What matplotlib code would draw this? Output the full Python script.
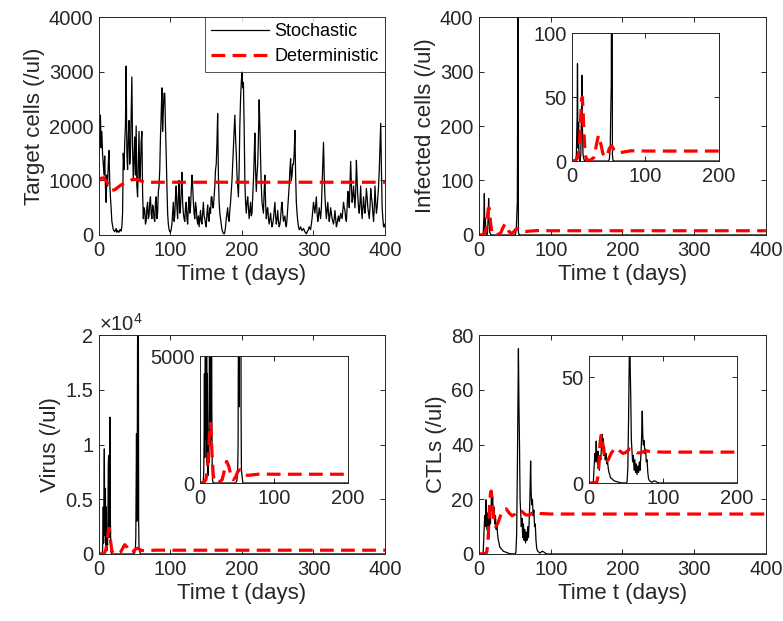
import matplotlib
matplotlib.use("Agg")
import matplotlib.pyplot as plt
import numpy as np

plt.rcParams['font.family'] = ['Liberation Sans', 'DejaVu Sans']
plt.rcParams['mathtext.fontset'] = 'custom'
plt.rcParams['mathtext.rm'] = 'Liberation Sans'
plt.rcParams['mathtext.it'] = 'Liberation Sans:italic'

# ---------------- data ----------------
# Target cells, stochastic (daily, 0..400)
t_T = list(range(0, 401))
T_stoch = [
    1300, 1800, 2200, 1600, 1900, 1500, 1300, 1100, 1450, 900, 600, 1100, 900, 1300, 1550, 1000, 700, 500, 250, 180,
    100, 80, 60, 90, 120, 50, 80, 60, 50, 90, 100, 70, 150, 400, 1500, 1200, 1700, 2000, 3100, 1500,
    1200, 1800, 2100, 1300, 1500, 2200, 2900, 1600, 1000, 1400, 1800, 1100, 2000, 900, 700, 1300, 1900, 1000, 1200, 1700,
    1900, 800, 300, 500, 450, 200, 250, 500, 600, 300, 350, 600, 700, 400, 300, 550, 500, 300, 250, 600,
    700, 300, 400, 800, 900, 1200, 1800, 2200, 2700, 1900, 2300, 2600, 2600, 2000, 1500, 900, 400, 200, 100, 60,
    50, 100, 200, 400, 600, 250, 350, 700, 900, 500, 300, 700, 1000, 400, 500, 800, 1150, 600, 400, 300,
    250, 500, 600, 300, 200, 500, 700, 400, 500, 800, 1100, 900, 600, 400, 300, 600, 500, 300, 200, 350,
    150, 300, 450, 250, 200, 400, 600, 350, 300, 200, 150, 400, 550, 300, 250, 500, 400, 700, 700, 500,
    500, 700, 900, 1200, 1300, 1700, 2230, 1100, 600, 400, 300, 200, 100, 60, 30, 20, 50, 150, 300, 400,
    500, 300, 250, 450, 600, 800, 1000, 1300, 1600, 1900, 2200, 1800, 1500, 1100, 900, 700, 1200, 2000, 2500, 2800,
    3000, 2700, 2800, 2000, 1000, 600, 400, 600, 700, 500, 300, 450, 600, 350, 400, 700, 1000, 1400, 1870, 1200,
    800, 1100, 1300, 1800, 2480, 2000, 1400, 900, 600, 500, 400, 800, 1100, 600, 300, 450, 500, 300, 200, 300,
    400, 250, 150, 200, 300, 450, 600, 350, 200, 300, 450, 250, 150, 200, 300, 500, 600, 400, 250, 300,
    350, 200, 150, 300, 500, 700, 900, 1200, 1400, 1000, 1100, 1300, 1300, 1500, 1920, 1100, 600, 400, 250, 150,
    100, 120, 150, 100, 80, 100, 120, 90, 60, 40, 20, 50, 80, 100, 150, 120, 100, 200, 300, 450,
    600, 500, 400, 550, 700, 400, 250, 350, 500, 400, 300, 500, 900, 1300, 1700, 1100, 700, 500, 300, 450,
    600, 400, 250, 350, 500, 400, 300, 250, 200, 300, 450, 300, 150, 200, 300, 350, 250, 300, 400, 350,
    300, 450, 600, 500, 450, 300, 250, 500, 800, 700, 500, 900, 1350, 900, 600, 700, 900, 700, 500, 800,
    1370, 1000, 700, 500, 400, 600, 900, 500, 300, 500, 700, 500, 400, 600, 850, 700, 500, 400, 300, 500,
    850, 700, 600, 400, 250, 500, 900, 600, 400, 500, 700, 900, 1200, 1600, 2050, 1200, 500, 300, 150, 200,
    150]
t_Tdet = [0, 3, 6, 10, 14, 18, 22, 26, 30, 35, 40, 45, 50, 55, 60, 65, 70, 80, 100, 400]
T_det = [1000, 1040, 1050, 1000, 880, 820, 830, 870, 910, 950, 985, 1010, 1020, 1010, 985, 970, 965, 968, 968, 968]

# Infected cells
t_I = [0, 5, 6, 7, 7.5, 8, 8.5, 9, 9.5, 10, 11, 12, 13, 13.5, 14, 14.5, 15, 16, 17, 18, 20,
       48, 50, 51, 52, 53, 53.5, 54, 54.5, 55, 56, 57, 60, 400]
I_stoch = [0, 0, 5, 35, 76, 20, 10, 30, 5, 2, 0, 5, 40, 67, 30, 20, 5, 2, 0, 0, 0,
           0, 0, 2, 10, 45, 60, 260, 500, 5, 0, 0, 0, 0]
t_Idet = [0, 5, 8, 10, 12, 13, 14, 15, 16, 18, 20, 25, 30, 33, 36, 39, 42, 45, 48, 51, 54,
          57, 60, 65, 70, 80, 90, 100, 400]
I_det = [0, 0.5, 3, 12, 35, 48, 50, 42, 25, 5, 1, 0.5, 3, 12, 20, 14, 6, 3, 5, 10, 12,
         9, 7, 6.5, 7, 8, 8, 7.8, 7.8]

# Virus
t_V = [0, 4, 5, 5.5, 6, 6.5, 7, 7.5, 8, 8.5, 9, 9.5, 10, 10.5, 11, 11.5, 12, 12.5, 13, 13.5,
       14, 14.5, 15, 15.5, 16, 16.5, 17, 18, 20,
       48, 50, 51, 51.5, 52, 52.5, 53, 53.5, 54, 54.5, 55, 55.5, 56, 58, 400]
V_stoch = [0, 0, 300, 1500, 4300, 1000, 5000, 9600, 2000, 1700, 6000, 800, 4300, 1500, 300,
           1200, 800, 3000, 8000, 9000, 1500, 4500, 1700, 12500, 3000, 600, 100, 0, 0,
           0, 100, 600, 1500, 6500, 11000, 3000, 8000, 20000, 30000, 25000, 3000, 500, 0, 0]
V_det = [0, 20, 130, 500, 1500, 2100, 2350, 2100, 1300, 300, 60, 20, 130, 500, 850, 650,
         280, 130, 220, 450, 520, 420, 320, 300, 320, 350, 350, 345, 345]

# CTLs
t_E = [0, 5, 6, 7, 8, 9, 9.8, 10.5, 11.6, 12.3, 13, 14, 15, 16, 17, 17.7, 18.5, 19, 20, 21,
       22, 23, 24, 25, 26, 27, 28, 29, 31, 34, 38, 43, 50, 51.5, 52.5, 53.5, 54.5, 55, 55.7,
       56.5, 57.3, 58, 59, 60, 61, 62, 63, 64, 65, 66, 67, 68, 69, 70, 71, 72, 72.8, 73.5,
       74.5, 75.5, 76.5, 77.5, 78.5, 79.5, 80.5, 82, 85, 88, 90, 93, 95, 400]
E_stoch = [0, 0, 1, 8, 14, 10, 19.8, 12, 8.8, 15, 12, 6, 13, 11, 18, 23, 16, 21, 13, 17,
           11, 14, 9, 11, 7, 5, 4, 2.5, 2, 1, 0.6, 0.1, 0, 0.5, 7, 30, 60, 75, 55,
           40, 20, 16, 10, 13, 6, 11, 5, 9, 4, 8, 5, 10, 6, 12, 20, 34, 22, 18,
           20, 14, 16, 10, 11, 5, 2, 1, 0.3, 1, 0.8, 0.2, 0, 0]
t_Edet = [0, 10, 11, 12, 13, 14, 15, 16, 17, 19, 21, 23, 26, 30, 34, 38, 42, 46, 50, 55,
          60, 65, 70, 76, 85, 100, 400]
E_det = [0, 0.2, 1, 3, 7, 13, 19, 22, 23, 18, 12, 10, 11, 14, 16, 16.5, 15, 14, 14.5, 16,
         15.5, 14.3, 14.2, 15.2, 14.8, 14.6, 14.6]

xticks_main = [0, 100, 200, 300, 400]
xticks_inset = [0, 100, 200]

# ---------------- style ----------------
TXT = '#262626'
TICK_FS = 14.5
LAB_FS = 16
DASH = (4.3, 2.3)

fig = plt.figure(figsize=(7.83, 6.21), dpi=100)


def style(ax, fs=TICK_FS):
    for s in ax.spines.values():
        s.set_color(TXT)
        s.set_linewidth(0.7)
    ax.tick_params(direction='in', length=3.5, width=0.7, colors=TXT,
                   labelsize=fs, top=True, right=True, pad=4)


def plot_pair(ax, ts, ys, td, yd, label=True):
    ax.plot(ts, ys, color='black', lw=0.9, label='Stochastic' if label else None)
    ax.plot(td, yd, color='red', lw=2.3, dashes=DASH, label='Deterministic' if label else None)


# Target cells
ax1 = fig.add_axes([0.1264, 0.6216, 0.3653, 0.3510])
plot_pair(ax1, t_T, T_stoch, t_Tdet, T_det)
ax1.set_xlim(0, 400)
ax1.set_ylim(0, 4000)
ax1.set_xticks(xticks_main)
ax1.set_yticks([0, 1000, 2000, 3000, 4000])
style(ax1)
ax1.set_xlabel('Time t (days)', fontsize=LAB_FS, color=TXT, labelpad=3)
ax1.set_ylabel('Target cells (/ul)', fontsize=LAB_FS, color=TXT, labelpad=3)
leg = ax1.legend(loc='upper right', fontsize=13, frameon=True, fancybox=False,
                 borderaxespad=0, handlelength=3.2, handletextpad=0.3,
                 borderpad=0.35, labelspacing=0.45, labelcolor='black')
leg.get_frame().set_edgecolor(TXT)
leg.get_frame().set_linewidth(0.7)

# Infected cells
ax2 = fig.add_axes([0.6117, 0.6216, 0.3665, 0.3510])
plot_pair(ax2, t_I, I_stoch, t_Idet, I_det)
ax2.set_xlim(0, 400)
ax2.set_ylim(0, 400)
ax2.set_xticks(xticks_main)
ax2.set_yticks([0, 100, 200, 300, 400])
style(ax2)
ax2.set_xlabel('Time t (days)', fontsize=LAB_FS, color=TXT, labelpad=3)
ax2.set_ylabel('Infected cells (/ul)', fontsize=LAB_FS, color=TXT, labelpad=3)

ax2i = fig.add_axes([0.7305, 0.7407, 0.1877, 0.2061])
plot_pair(ax2i, t_I, I_stoch, t_Idet, I_det, label=False)
ax2i.set_xlim(0, 200)
ax2i.set_ylim(0, 100)
ax2i.set_xticks(xticks_inset)
ax2i.set_yticks([0, 50, 100])
style(ax2i)

# Virus
ax3 = fig.add_axes([0.1264, 0.1079, 0.3653, 0.3526])
plot_pair(ax3, t_V, V_stoch, t_Idet, V_det)
ax3.set_xlim(0, 400)
ax3.set_ylim(0, 20000)
ax3.set_xticks(xticks_main)
ax3.set_yticks([0, 5000, 10000, 15000, 20000])
ax3.set_yticklabels(['0', '0.5', '1', '1.5', '2'])
style(ax3)
ax3.set_xlabel('Time t (days)', fontsize=LAB_FS, color=TXT, labelpad=3)
ax3.set_ylabel('Virus (/ul)', fontsize=LAB_FS, color=TXT, labelpad=3)
ax3.text(0.0, 1.003, r'$\times10^{4}$', transform=ax3.transAxes, fontsize=TICK_FS,
         color=TXT, ha='left', va='bottom')

ax3i = fig.add_axes([0.2554, 0.2222, 0.1890, 0.2045])
plot_pair(ax3i, t_V, V_stoch, t_Idet, V_det, label=False)
ax3i.set_xlim(0, 200)
ax3i.set_ylim(0, 5000)
ax3i.set_xticks(xticks_inset)
ax3i.set_yticks([0, 5000])
style(ax3i)

# CTLs
ax4 = fig.add_axes([0.6117, 0.1079, 0.3665, 0.3526])
plot_pair(ax4, t_E, E_stoch, t_Edet, E_det)
ax4.set_xlim(0, 400)
ax4.set_ylim(0, 80)
ax4.set_xticks(xticks_main)
ax4.set_yticks([0, 20, 40, 60, 80])
style(ax4)
ax4.set_xlabel('Time t (days)', fontsize=LAB_FS, color=TXT, labelpad=3)
ax4.set_ylabel('CTLs (/ul)', fontsize=LAB_FS, color=TXT, labelpad=3)

ax4i = fig.add_axes([0.7522, 0.2222, 0.1890, 0.2045])
plot_pair(ax4i, t_E, E_stoch, t_Edet, E_det, label=False)
ax4i.set_xlim(0, 200)
ax4i.set_ylim(0, 60)
ax4i.set_xticks(xticks_inset)
ax4i.set_yticks([0, 50])
style(ax4i)

fig.savefig('out.png', dpi=100)
